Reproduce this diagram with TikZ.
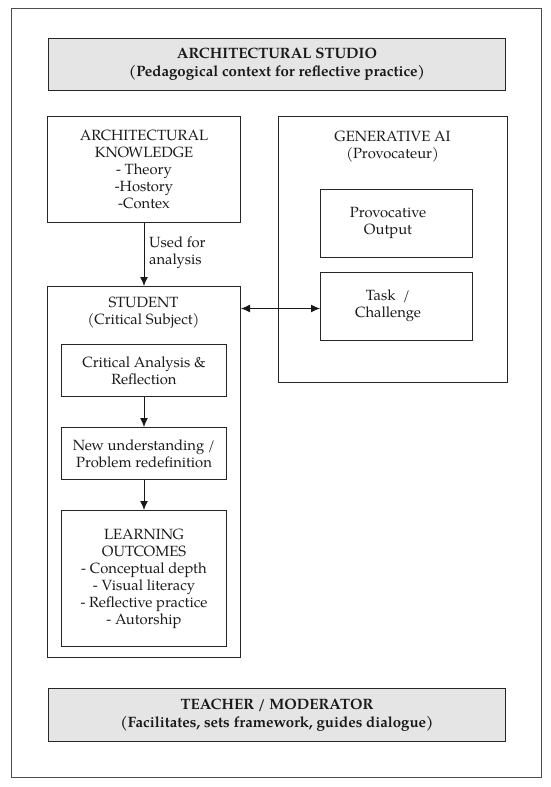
\documentclass[tikz,border=0pt]{standalone}
\usepackage{fontspec}
\setmainfont{TeX Gyre Pagella}
\usetikzlibrary{arrows.meta,calc}
\begin{document}
\begin{tikzpicture}[x=1pt,y=-1pt,
  every node/.style={font=\fontsize{14.8}{17}\selectfont, text=black!90},
  frame/.style={draw=black!70, line width=0.9pt, anchor=north west, inner sep=0pt},
  box/.style={draw=black!85, line width=1pt, align=center, inner sep=0pt, anchor=north west},
  graybox/.style={box, fill=black!10, font=\bfseries\fontsize{15}{18}\selectfont},
  txt/.style={align=center, inner sep=0pt},
  arr/.style={-{Latex[length=9pt,width=8pt]}, line width=1pt, draw=black!90},
  dbl/.style={{Latex[length=9pt,width=8pt]}-{Latex[length=9pt,width=8pt]}, line width=1pt, draw=black!90}]
\useasboundingbox (0,0) rectangle (550,787);
\node[frame, minimum width=530, minimum height=769] (outer) at (11,8) {};
\node[graybox, minimum width=457, minimum height=52] (studio) at (48,38) {ARCHITECTURAL STUDIO\\(Pedagogical context for reflective practice)};
\node[box, minimum width=193, minimum height=106] (know) at (47,116) {ARCHITECTURAL\\KNOWLEDGE\\- Theory\\-Hostory\\-Contex};
\node[box, minimum width=229, minimum height=266] (ai) at (278,116) {};
\node[txt] (ailbl) at (392.5,147) {GENERATIVE AI\\(Provocateur)};
\node[box, minimum width=152, minimum height=68] (prov) at (320,189) {};
\node[txt] (provlbl) at (388,223) {Provocative\\Output};
\node[box, minimum width=152, minimum height=68] (task) at (320,272) {};
\node[txt] (tasklbl) at (388,306) {Task~~/\\Challenge};
\node[box, minimum width=193, minimum height=371] (student) at (47,286) {};
\node[txt] (studlbl) at (143.5,313) {STUDENT\\(Critical Subject)};
\node[box, minimum width=165, minimum height=52] (crit) at (61,344) {Critical Analysis \&\\Reflection};
\node[box, minimum width=165, minimum height=52] (new) at (61,427) {New understanding /\\Problem redefinition};
\node[box, minimum width=165, minimum height=136] (lo) at (61,510) {LEARNING\\OUTCOMES\\- Conceptual depth\\- Visual literacy\\- Reflective practice\\- Autorship};
\node[graybox, minimum width=457, minimum height=53] (teacher) at (48,688) {TEACHER / MODERATOR\\(Facilitates, sets framework, guides dialogue)};
\node[txt, align=left, anchor=west] (used) at (149,253) {Used for\\analysis};
\draw[arr] (know.south) -- (student.north);
\draw[arr] (crit.south) -- (new.north);
\draw[arr] (new.south) -- (lo.north);
\draw[dbl] ($(task.west -| student.east)+(0,2)$) -- ($(task.west)+(0,2)$);
\end{tikzpicture}
\end{document}
